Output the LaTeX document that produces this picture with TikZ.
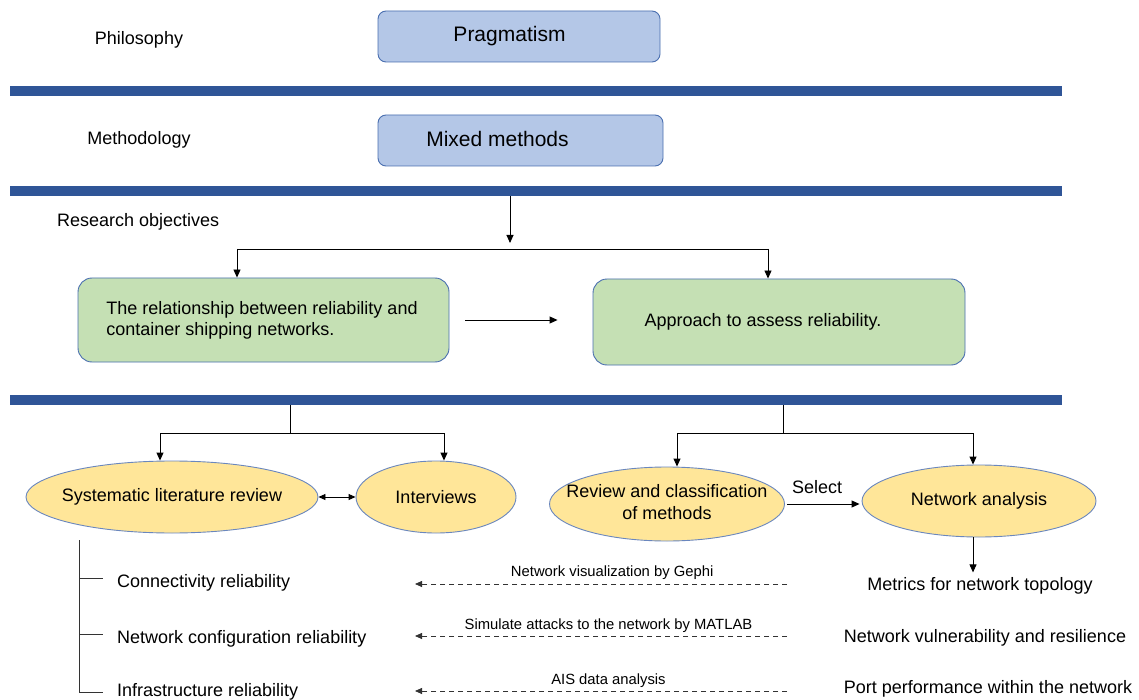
\documentclass[tikz,border=0pt]{standalone}
\usepackage{fontspec}
\setmainfont{Liberation Sans}
\usetikzlibrary{arrows.meta,shapes.geometric,calc}
\definecolor{bandblue}{HTML}{2F5597}
\definecolor{boxblue}{HTML}{B4C7E7}
\definecolor{edgeblue}{HTML}{4A6FB0}
\definecolor{boxgreen}{HTML}{C5E0B4}
\definecolor{ovalyellow}{HTML}{FFE699}
\definecolor{ovaledge}{HTML}{6A87BE}

\begin{document}
\begin{tikzpicture}[x=1pt,y=-1pt,
  txt/.style={font=\fontsize{18}{21}\selectfont, inner sep=0pt, yshift=-2pt},
  small/.style={font=\fontsize{14.8}{17}\selectfont, inner sep=0pt, yshift=-2pt},
  band/.style={rectangle, fill=bandblue, draw=none, minimum width=1052pt,
               minimum height=10pt, inner sep=0pt, anchor=north west},
  stagebox/.style={rectangle, rounded corners=8pt, draw=edgeblue, fill=boxblue,
               line width=0.9pt, minimum width=282pt, minimum height=51pt,
               font=\fontsize{21}{24}\selectfont},
  goalbox/.style={rectangle, rounded corners=14pt, draw=edgeblue, fill=boxgreen,
               line width=0.9pt, minimum width=371pt, minimum height=84pt,
               align=left, font=\fontsize{18}{21}\selectfont},
  oval/.style={ellipse, draw=ovaledge, fill=ovalyellow, line width=0.9pt,
               inner sep=0pt, font=\fontsize{18}{22}\selectfont},
  link/.style={line width=0.9pt, draw=black},
  arr/.style={link, -{Triangle[length=8pt,width=7pt]}},
  dblarr/.style={link, {Triangle[length=7pt,width=6pt]}-{Triangle[length=7pt,width=6pt]}},
  dasharr/.style={line width=0.8pt, draw=black!80, dash pattern=on 5pt off 4pt,
               -{Triangle[length=7pt,width=6pt]}}
]
\useasboundingbox (0,0) rectangle (1139,700);
\fill[white] (0,0) rectangle (1139,700);

% ---- philosophy and methodology layers ----
\node[txt] (philo) at (139,38) {Philosophy};
\node[stagebox] (prag) at (519,36.5) {\raisebox{3pt}{Pragmatism}\rule{19pt}{0pt}};
\node[band] (band1) at (10,86) {};

\node[txt] (meth) at (139,138) {Methodology};
\node[stagebox, minimum width=285pt] (mixed) at (520.5,140.5)
  {\raisebox{3pt}{Mixed methods}\rule{46pt}{0pt}};
\node[band] (band2) at (10,186) {};

% ---- research objectives ----
\node[txt, anchor=west] (objs) at (57,220) {Research objectives};
\node[goalbox] (g1) at (263.5,320)
  {\hspace*{-3pt}The relationship between reliability and\\\hspace*{-3pt}container shipping networks.};
\node[goalbox, minimum width=372pt, minimum height=86pt] (g2) at (779,322)
  {Approach to assess reliability.\hspace{32pt}};
\node[band] (band3) at (10,395) {};

\coordinate (busA) at (510,249);
\coordinate (busAl) at (237,249);
\coordinate (busAr) at (768,249);
\draw[arr] (band2.south -| busA) -- ([yshift=6pt]busA);
\draw[link] (busAl) -- (busAr);
\draw[arr] (busAl) -- (busAl |- g1.north);
\draw[arr] (busAr) -- (busAr |- g2.north);
\draw[arr, shorten <=16pt, shorten >=35pt] (g1.east) -- (g1.east -| g2.west);

% ---- methods ----
\node[oval, minimum width=292pt, minimum height=72pt] (slr) at (172,497)
  {\makebox[0pt]{Systematic literature review}};
\node[oval, minimum width=160pt, minimum height=72pt] (intv) at (436,497)
  {\makebox[0pt]{Interviews}};
\node[oval, minimum width=235pt, minimum height=74pt] (rcm) at (667,504)
  {\makebox[0pt]{\raisebox{-2pt}{\begin{tabular}{@{}c@{}}Review and classification\\of methods\end{tabular}}}};
\node[oval, minimum width=234pt, minimum height=72pt] (na) at (979,501)
  {\makebox[0pt]{Network analysis}};

\coordinate (busB) at (290,433);
\coordinate (busBl) at (160,433);
\coordinate (busBr) at (444,433);
\draw[link] (band3.south -| busB) -- (busB);
\draw[link] (busBl) -- (busBr);
\draw[arr] (busBl) -- (busBl |- slr.north);
\draw[arr] (busBr) -- (busBr |- intv.north);
\draw[dblarr] (slr.east) -- (intv.west);

\coordinate (busC) at (783,433);
\coordinate (busCl) at (677,433);
\coordinate (busCr) at (973,433);
\draw[link] (band3.south -| busC) -- (busC);
\draw[link] (busCl) -- (busCr);
\draw[arr] (busCl) -- (busCl |- rcm.north);
\draw[arr] (busCr) -- (busCr |- na.north);
\draw[arr, shorten <=2pt, shorten >=2pt] (rcm.east) --
  node[txt, above=12pt, pos=0.42] (sel) {Select} (rcm.east -| na.west);

% ---- outcomes ----
\node[txt] (topo) at (980,584) {Metrics for network topology};
\node[txt] (vuln) at (985,636) {Network vulnerability and resilience};
\node[txt] (port) at (988,687) {Port performance within the network};
\draw[arr] (na.south -| busCr) -- ([yshift=5pt]busCr |- topo.north);

% ---- reliability dimensions ----
\node[txt, anchor=west] (conn) at (117,581) {Connectivity reliability};
\node[txt, anchor=west] (conf) at (117,637) {Network configuration reliability};
\node[txt, anchor=west] (infra) at (117,690) {Infrastructure reliability};
\coordinate (treetop) at (79,540);
\coordinate (treebot) at (79,692);
\draw[link, draw=black!80] (treetop) -- (treebot) -- ++(24,0);
\draw[link, draw=black!80] (treetop |- 0,578) -- ++(24,0);
\draw[link, draw=black!80] (treetop |- 0,634) -- ++(24,0);

% ---- tools linking outcomes and dimensions ----
\coordinate (d1s) at (787,584); \coordinate (d1e) at (415,584);
\coordinate (d2s) at (787,636); \coordinate (d2e) at (415,636);
\coordinate (d3s) at (787,691); \coordinate (d3e) at (415,691);
\draw[dasharr] (d1s) -- node[small, above=6pt, pos=0.47] (t1) {Network visualization by Gephi} (d1e);
\draw[dasharr] (d2s) -- node[small, above=5pt, pos=0.48] (t2) {Simulate attacks to the network by MATLAB} (d2e);
\draw[dasharr] (d3s) -- node[small, above=5pt, pos=0.48] (t3) {AIS data analysis} (d3e);
\end{tikzpicture}
\end{document}
